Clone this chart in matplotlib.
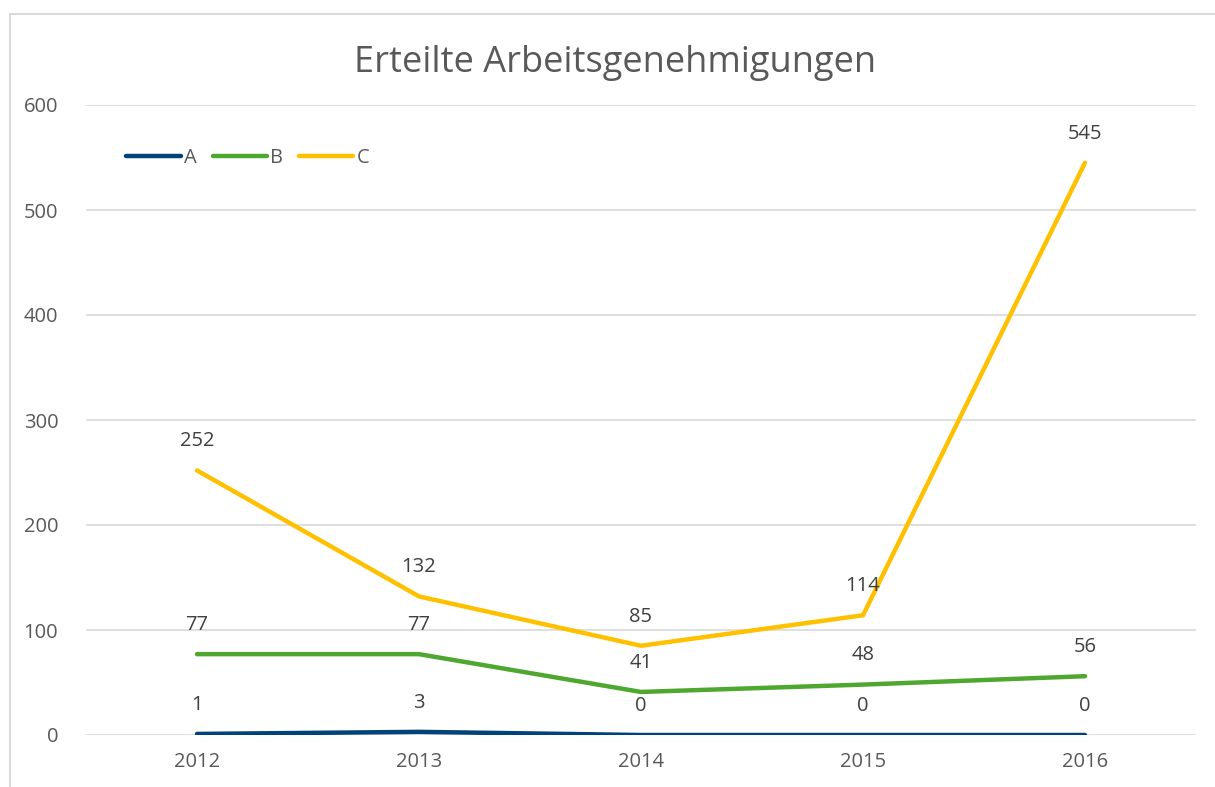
import matplotlib.pyplot as plt
from matplotlib.patches import Rectangle

years = ['2012', '2013', '2014', '2015', '2016']
series_a = [1, 3, 0, 0, 0]
series_b = [77, 77, 41, 48, 56]
series_c = [252, 132, 85, 114, 545]
names = ['A', 'B', 'C']
colors = ['#00427A', '#4EA72E', '#FFC000']

plt.rcParams['font.family'] = ['Open Sans', 'DejaVu Sans']
txt = '#595959'

fig = plt.figure(figsize=(12.15, 7.87), dpi=100)
# outer chart border (cropped on right/bottom)
fig.patches.append(Rectangle((10 / 1215, -0.1), 1.2, (787 - 14) / 787 + 0.1,
                             transform=fig.transFigure, fill=False,
                             edgecolor='#D9D9D9', linewidth=1.5))

ax = fig.add_axes([86 / 1215, 52 / 787, 1110 / 1215, 630 / 787])
x = list(range(len(years)))
for vals, name, col in zip([series_a, series_b, series_c], names, colors):
    ax.plot(x, vals, color=col, linewidth=3.2, solid_capstyle='round',
            solid_joinstyle='round', label=name, zorder=3)
    for xi, v in zip(x, vals):
        ax.annotate(str(v), (xi, v), xytext=(0, 21), textcoords='offset points',
                    ha='center', va='center', fontsize=14.5, color='#404040')

ax.set_xlim(-0.5, len(years) - 0.5)
ax.set_ylim(0, 600)
ax.set_yticks(range(0, 601, 100))
ax.set_xticks(x)
ax.set_xticklabels(years)
ax.grid(axis='y', color='#D9D9D9', linewidth=1.2, zorder=0)
ax.tick_params(length=0, labelsize=14.5, labelcolor=txt)
ax.tick_params(axis='y', pad=20)
ax.tick_params(axis='x', pad=12)
for s in ax.spines.values():
    s.set_visible(False)

fig.text(615 / 1215, 1 - 63 / 787, 'Erteilte Arbeitsgenehmigungen', ha='center',
         va='center', fontsize=26, color=txt)

ax.legend(loc='upper left', bbox_to_anchor=(0.02, 0.96), ncol=3, frameon=False,
          fontsize=14.5, labelcolor=txt, handlelength=2.7, handletextpad=0.15,
          columnspacing=0.8)

fig.savefig('out.png', dpi=100)
